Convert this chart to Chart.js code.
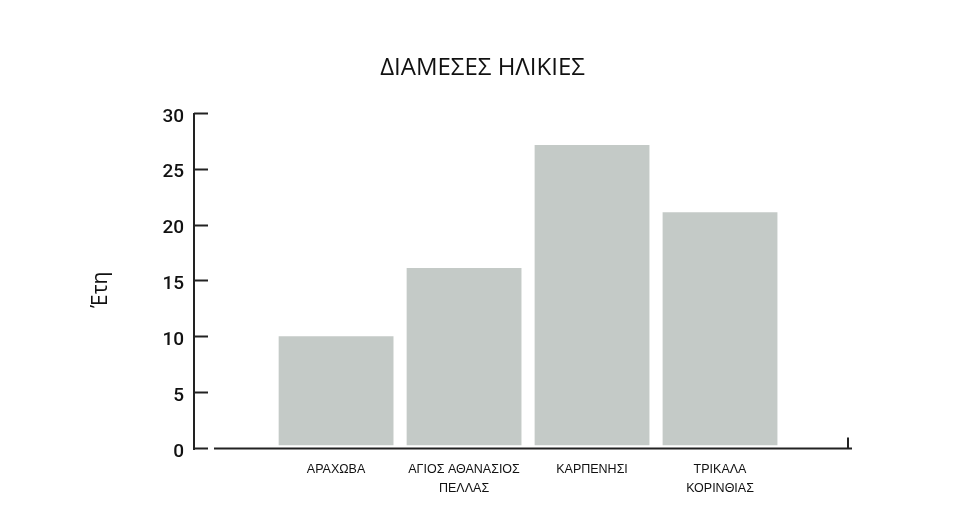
<!DOCTYPE html>
<html>
<head>
<meta charset="utf-8">
<script src="https://cdn.jsdelivr.net/npm/chart.js@4/dist/chart.umd.min.js"></script>
<style>
  html, body { margin: 0; padding: 0; background: #fff; }
  #wrap { width: 965px; height: 523px; }
</style>
</head>
<body>
<div id="wrap"><canvas id="ages"></canvas></div>
<script>
var categories = [
  ['ΑΡΑΧΩΒΑ'],
  ['ΑΓΙΟΣ ΑΘΑΝΑΣΙΟΣ', 'ΠΕΛΛΑΣ'],
  ['ΚΑΡΠΕΝΗΣΙ'],
  ['ΤΡΙΚΑΛΑ', 'ΚΟΡΙΝΘΙΑΣ']
];
var medianAges = [10.1, 16.2, 27.2, 21.2];
var yTicks = [0, 5, 10, 15, 20, 25, 30];

// short tick marks inside the plot + x axis line with its end mark
var axisMarks = {
  id: 'axisMarks',
  afterDraw(chart) {
    let ctx = chart.ctx;
    let area = chart.chartArea;
    let y = chart.scales.y;
    let zero = Math.round(y.getPixelForValue(0)) - 0.5;
    ctx.save();
    ctx.strokeStyle = '#222';
    ctx.lineWidth = 2;
    y.ticks.forEach((t) => {
      let py = Math.round(y.getPixelForValue(t.value)) - 0.5;
      ctx.beginPath();
      ctx.moveTo(area.left, py);
      ctx.lineTo(area.left + 14, py);
      ctx.stroke();
    });
    ctx.beginPath();
    ctx.moveTo(area.left + 20, zero);
    ctx.lineTo(area.right + 4, zero);
    ctx.stroke();
    ctx.beginPath();
    ctx.moveTo(area.right, zero);
    ctx.lineTo(area.right, zero - 11);
    ctx.stroke();
    ctx.restore();
  }
};

new Chart(document.getElementById('ages'), {
  type: 'bar',
  data: {
    datasets: [{
      label: 'Διάμεσες ηλικίες',
      data: medianAges.map((v, i) => ({x: i + 1, y: v})),
      backgroundColor: '#c4cac7',
      borderColor: '#ffffff',
      borderWidth: {top: 0, left: 0, right: 0, bottom: 4},
      borderSkipped: false,
      barThickness: 115
    }]
  },
  options: {
    responsive: true,
    maintainAspectRatio: false,
    animation: false,
    layout: {padding: {left: 117, right: 117, top: 0, bottom: 0}},
    plugins: {
      legend: {display: false},
      tooltip: {enabled: false},
      title: {
        display: true,
        text: 'ΔΙΑΜΕΣΕΣ ΗΛΙΚΙΕΣ',
        color: '#111',
        font: {family: '"Open Sans", "Noto Sans", sans-serif', size: 24, weight: 'normal'},
        padding: {top: 54, bottom: 31}
      }
    },
    scales: {
      x: {
        type: 'linear',
        offset: false,
        min: -0.11,
        max: 5,
        grid: {display: false, drawTicks: false},
        border: {display: false},
        afterFit(scale) { scale.height = 74; },
        ticks: {
          stepSize: 1,
          autoSkip: false,
          maxRotation: 0,
          padding: 11,
          color: '#111',
          font: {family: '"Liberation Sans Narrow", "Liberation Sans", sans-serif', size: 12.5, lineHeight: 1.5},
          callback: (v) => (Number.isInteger(v) && v >= 1 && v <= categories.length) ? categories[v - 1] : ''
        }
      },
      y: {
        min: 0,
        max: 30,
        afterFit(scale) { scale.width = 77; },
        afterBuildTicks(scale) { scale.ticks = yTicks.map(v => ({value: v})); },
        grid: {display: false, drawTicks: false},
        border: {display: true, color: '#222', width: 2},
        ticks: {
          padding: 10,
          labelOffset: 3,
          color: '#111',
          font: {family: 'Roboto, "DejaVu Sans", sans-serif', size: 19, weight: 500}
        },
        title: {
          display: true,
          text: 'Έτη   ',
          color: '#111',
          padding: {top: -29, bottom: 0},
          font: {family: '"Open Sans", "Noto Sans", sans-serif', size: 21}
        }
      }
    }
  },
  plugins: [axisMarks]
});
</script>
</body>
</html>
